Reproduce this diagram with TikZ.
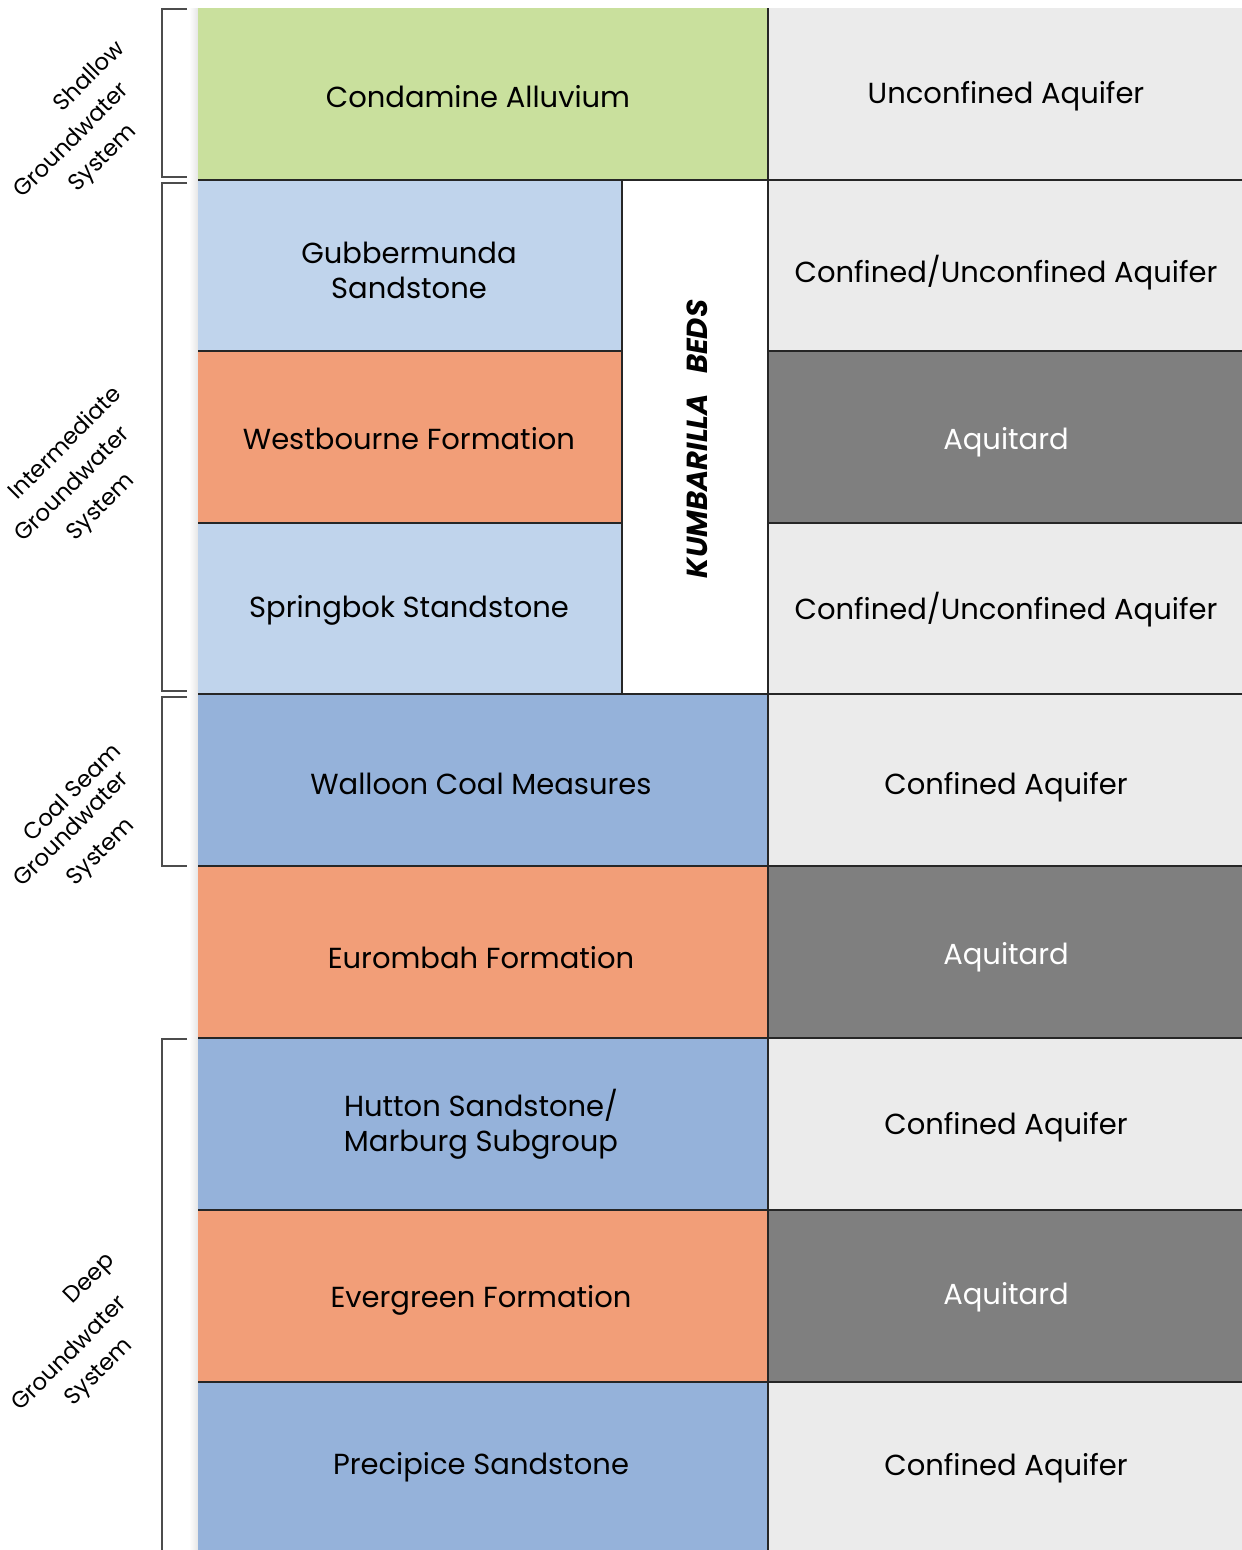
\documentclass[tikz,border=0pt]{standalone}
\usepackage{fontspec}
\setmainfont{Poppins}
\definecolor{cgreen}{HTML}{C9E09D}
\definecolor{clblue}{HTML}{C0D4EC}
\definecolor{cmblue}{HTML}{95B2DA}
\definecolor{corange}{HTML}{F29E78}
\definecolor{clgray}{HTML}{EBEBEB}
\definecolor{cdgray}{HTML}{7F7F7F}
\begin{document}
\begin{tikzpicture}[x=1pt,y=-1pt,
  cell/.style={draw=black!85,line width=1.2pt},
  celltext/.style={font=\fontsize{29}{35}\selectfont,align=center,text=black},
  darktext/.style={font=\fontsize{29}{35}\selectfont,align=center,text=white},
  brack/.style={draw=black!70,line width=1.3pt},
  grouplabel/.style={font=\fontsize{23}{31}\selectfont,rotate=45,inner sep=0pt,text height=15pt,text depth=0pt}]
\useasboundingbox[fill=white] (0,0) rectangle (1242,1550);
% shadow
\shade[left color=white,right color=black!10] (189,8) rectangle (198,1550);
% left column
\path[fill=cgreen] (198,8) rectangle (768,180);
\path[fill=clblue] (198,180) rectangle (622,351);
\path[fill=corange] (198,351) rectangle (622,523);
\path[fill=clblue] (198,523) rectangle (622,694);
\path[fill=white] (622,180) rectangle (768,694);
\path[fill=cmblue] (198,694) rectangle (768,866);
\path[fill=corange] (198,866) rectangle (768,1038);
\path[fill=cmblue] (198,1038) rectangle (768,1210);
\path[fill=corange] (198,1210) rectangle (768,1382);
\path[fill=cmblue] (198,1382) rectangle (768,1550);
% right column
\path[fill=clgray] (768,8) rectangle (1242,351);
\path[fill=cdgray] (768,351) rectangle (1242,523);
\path[fill=clgray] (768,523) rectangle (1242,866);
\path[fill=cdgray] (768,866) rectangle (1242,1038);
\path[fill=clgray] (768,1038) rectangle (1242,1210);
\path[fill=cdgray] (768,1210) rectangle (1242,1382);
\path[fill=clgray] (768,1382) rectangle (1242,1550);
% grid lines
\draw[cell] (198,180) -- (1242,180);
\draw[cell] (198,351) -- (622,351) (768,351) -- (1242,351);
\draw[cell] (198,523) -- (622,523) (768,523) -- (1242,523);
\foreach \yy in {694,866,1038,1210,1382} \draw[cell] (198,\yy) -- (1242,\yy);
\draw[cell] (622,180) -- (622,694);
\draw[cell] (768,8) -- (768,1550);
% formation nodes
\node[celltext] (cond) at (478,97) {Condamine Alluvium};
\node[celltext] (gubb) at (409,270) {Gubbermunda\\Sandstone};
\node[celltext] (west) at (409,439) {Westbourne Formation};
\node[celltext] (spri) at (409,610) {Springbok Standstone};
\node[celltext] (wall) at (481,784) {Walloon Coal Measures};
\node[celltext] (euro) at (481,958) {Eurombah Formation};
\node[celltext] (hutt) at (481,1124) {Hutton Sandstone/\\Marburg Subgroup};
\node[celltext] (ever) at (481,1300) {Evergreen Formation};
\node[celltext] (prec) at (481,1467) {Precipice Sandstone};
\node[font=\fontsize{29}{35}\selectfont\bfseries\itshape,rotate=90] (kumb) at (697,439) {KUMBARILLA\hspace{20pt}BEDS};
% type nodes
\node[celltext] (t1) at (1006,96) {Unconfined Aquifer};
\node[celltext] (t2) at (1006,273) {Confined/Unconfined Aquifer};
\node[darktext] (t3) at (1006,442) {Aquitard};
\node[celltext] (t4) at (1006,610) {Confined/Unconfined Aquifer};
\node[celltext] (t5) at (1006,787) {Confined Aquifer};
\node[darktext] (t6) at (1006,957) {Aquitard};
\node[celltext] (t7) at (1006,1127) {Confined Aquifer};
\node[darktext] (t8) at (1006,1297) {Aquitard};
\node[celltext] (t9) at (1006,1468) {Confined Aquifer};
% brackets
\draw[brack] (187,9) -- (162,9) -- (162,177) -- (187,177);
\draw[brack] (187,183) -- (162,183) -- (162,691) -- (187,691);
\draw[brack] (187,697) -- (162,697) -- (162,866) -- (187,866);
\draw[brack] (187,1039) -- (162,1039) -- (162,1550);
% group labels
\node[grouplabel] (g1a) at (89,76) {Shallow};
\node[grouplabel] (g1b) at (71,140) {Groundwater};
\node[grouplabel] (g1c) at (102,157) {System};
\node[grouplabel] (g2a) at (65,443) {Intermediate};
\node[grouplabel] (g2b) at (72,484) {Groundwater};
\node[grouplabel] (g2c) at (100,506) {System};
\node[grouplabel] (g3a) at (72,792) {Coal Seam};
\node[grouplabel] (g3b) at (71,829) {Groundwater};
\node[grouplabel] (g3c) at (100,851) {System};
\node[grouplabel] (g4a) at (89,1278) {Deep};
\node[grouplabel] (g4b) at (69,1353) {Groundwater};
\node[grouplabel] (g4c) at (98,1371) {System};
\end{tikzpicture}
\end{document}
